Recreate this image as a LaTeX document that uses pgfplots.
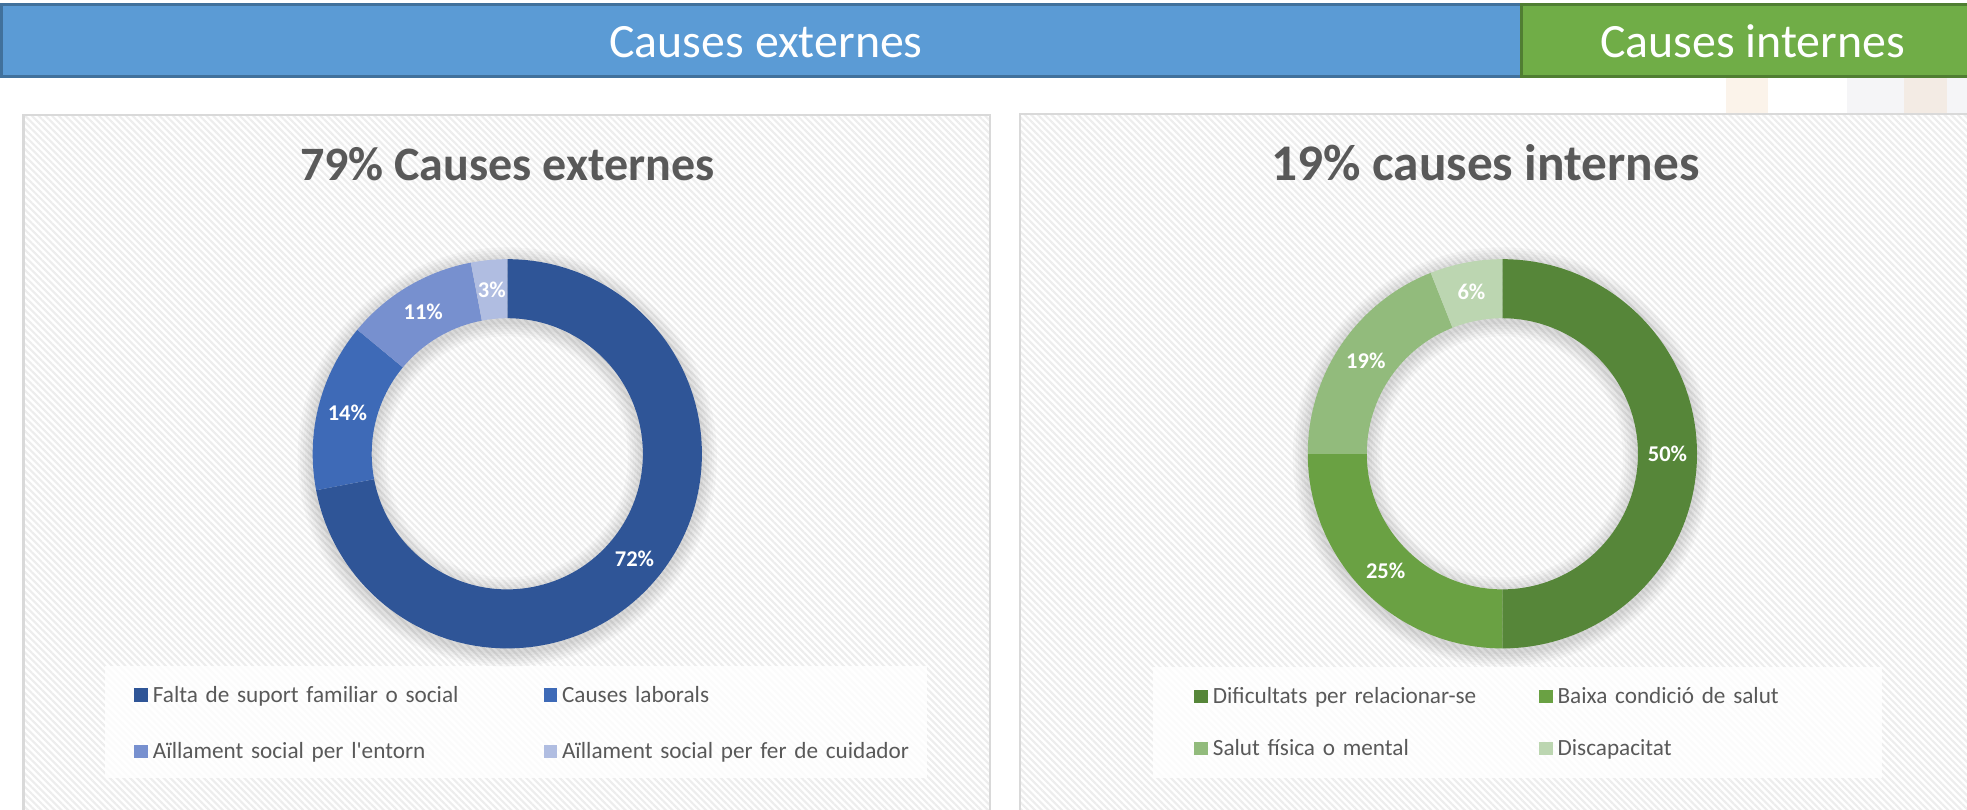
\documentclass[border=0pt]{standalone}
\usepackage{pgfplots}
\pgfplotsset{compat=1.18}
\usepackage{fontspec}
\setmainfont{Carlito}[Ligatures=TeXOff]
\usetikzlibrary{patterns.meta}

\definecolor{hdrblue}{HTML}{5B9BD5}
\definecolor{hdrblueB}{HTML}{41719C}
\definecolor{hdrgreen}{HTML}{70AD47}
\definecolor{hdrgreenB}{HTML}{507E32}
\definecolor{txtgray}{HTML}{595959}
\definecolor{panelB}{HTML}{D9D9D9}
\definecolor{stripe}{HTML}{EDEDED}
\definecolor{b1}{HTML}{2F5597}
\definecolor{b2}{HTML}{3E6AB7}
\definecolor{b3}{HTML}{7790CF}
\definecolor{b4}{HTML}{B0BDE1}
\definecolor{g1}{HTML}{568639}
\definecolor{g2}{HTML}{6AA143}
\definecolor{g3}{HTML}{92BB7C}
\definecolor{g4}{HTML}{BCD6B1}
\definecolor{beigeA}{HTML}{FBF3EA}
\definecolor{beigeB}{HTML}{F3EBE4}
\definecolor{grayA}{HTML}{F5F5F7}

% donut segment between two cumulative percentages (clockwise from top)
\newcommand{\seg}[3]{%
  \fill[#1] (axis cs:{cos(90-3.6*#2)},{sin(90-3.6*#2)})
    arc[start angle={90-3.6*#2}, end angle={90-3.6*#3}, radius=1.945cm]
    -- (axis cs:{0.6967*cos(90-3.6*#3)},{0.6967*sin(90-3.6*#3)})
    arc[start angle={90-3.6*#3}, end angle={90-3.6*#2}, radius=1.355cm] -- cycle;}
% data label at the middle of a segment
\newcommand{\lab}[3]{%
  \node[text=white, font=\bfseries\fontsize{6.4}{7.7}\selectfont]
    at (axis cs:{0.8483*cos(90-1.8*(#1+#2))},{0.8483*sin(90-1.8*(#1+#2))}) {#3};}
% soft shadow of the ring
\newcommand{\ringshadow}{%
  \fill[black, opacity=0.025, even odd rule] (axis cs:0,-0.016) circle[radius=1.97cm] (axis cs:0,-0.016) circle[radius=1.33cm];
  \fill[black, opacity=0.025, even odd rule] (axis cs:0,-0.016) circle[radius=1.995cm] (axis cs:0,-0.016) circle[radius=1.305cm];
  \fill[black, opacity=0.025, even odd rule] (axis cs:0,-0.016) circle[radius=2.02cm] (axis cs:0,-0.016) circle[radius=1.28cm];
  \fill[black, opacity=0.025, even odd rule] (axis cs:0,-0.016) circle[radius=2.045cm] (axis cs:0,-0.016) circle[radius=1.255cm];
  \fill[black, opacity=0.025, even odd rule] (axis cs:0,-0.016) circle[radius=2.07cm] (axis cs:0,-0.016) circle[radius=1.23cm];
  \fill[black, opacity=0.025, even odd rule] (axis cs:0,-0.016) circle[radius=2.095cm] (axis cs:0,-0.016) circle[radius=1.205cm];}

\pgfplotsset{
  donut/.style={
    scale only axis, width=3.89cm, height=3.89cm,
    xmin=-1, xmax=1, ymin=-1, ymax=1,
    hide axis, clip=false, anchor=south west,
    title style={anchor=base, yshift=-6pt, text=txtgray},
    legend columns=2, legend cell align=left,
    legend image code/.code={\fill[##1,draw=none] (0cm,-0.05cm) rectangle (0.135cm,0.085cm);},
    legend style={anchor=north west, draw=none, fill=none, inner sep=0pt,
      /tikz/every odd column/.append style={column sep=0.05cm}},
  },
  legnodes/.style={legend style={nodes={inner sep=0pt, text width=#1, align=left,
      text height=0.16cm, text depth=0.05cm,
      font=\fontsize{6.6}{7.9}\selectfont, text=txtgray}}},
}

\begin{document}
\begin{tikzpicture}[x=0.01cm, y=0.01cm]
\useasboundingbox (0,0) rectangle (1967,809);
\clip (0,0) rectangle (1967,809);
\fill[white] (0,0) rectangle (1967,809);

% panels
\fill[white] (23.5,-20) rectangle (990,694);
\fill[pattern={Lines[angle=-45, distance=1.35pt, line width=0.6pt]}, pattern color=stripe] (23.5,-20) rectangle (990,694);
\draw[panelB, line width=0.025cm] (23.5,-20) rectangle (990,694);
\fill[white] (1020,-20) rectangle (2000,695);
\fill[pattern={Lines[angle=-45, distance=1.35pt, line width=0.6pt]}, pattern color=stripe] (1020,-20) rectangle (2000,695);
\draw[panelB, line width=0.025cm] (1020,-20) rectangle (2000,695);

% faint blocks under header
\fill[beigeA] (1725.7,696) rectangle (1768,731);
\fill[grayA] (1846.7,696) rectangle (1904,731);
\fill[beigeB] (1904,696) rectangle (1946.7,731);
\fill[grayA] (1946.7,696) rectangle (1967,731);

% legend backgrounds
\fill[white, opacity=0.8] (105,31) rectangle (927,143);
\fill[white, opacity=0.8] (1153,31) rectangle (1882,142);

% header bars
\filldraw[fill=hdrblue, draw=hdrblueB, line width=0.03cm] (1.5,804.5) rectangle (1521,732.5);
\filldraw[fill=hdrgreen, draw=hdrgreenB, line width=0.03cm] (1521.5,804.5) rectangle (1995,732.5);
\node[anchor=base, text=white, font=\fontsize{13.6}{16}\selectfont] at (766,751) {Causes externes};
\node[anchor=base, text=white, font=\fontsize{13.6}{16}\selectfont] at (1752.5,751) {Causes internes};

% left donut: 72, 14, 11, 3
\begin{axis}[donut, at={(3.125cm,1.605cm)},
  title={79\% Causes externes},
  title style={at={(0.5,1.2018)}, font=\bfseries\fontsize{13.65}{16}\selectfont},
  legnodes=3.904cm,
  legend style={at={(-0.4599,-0.0956)}, row sep=0.356cm}]
\ringshadow
\seg{b1}{0}{72}
\seg{b2}{72}{86}
\seg{b3}{86}{97}
\seg{b4}{97}{100}
\lab{0}{72}{72\%}
\lab{72}{86}{14\%}
\lab{86}{97}{11\%}
\lab{97}{100}{3\%}
\addlegendimage{fill=b1}\addlegendentry{Falta de suport familiar o social}
\addlegendimage{fill=b2}\addlegendentry{Causes laborals}
\addlegendimage{fill=b3}\addlegendentry{Aïllament social per l'entorn}
\addlegendimage{fill=b4}\addlegendentry{Aïllament social per fer de cuidador}
\end{axis}

% right donut: 50, 25, 19, 6
\begin{axis}[donut, at={(13.07cm,1.605cm)},
  title={19\% causes internes},
  title style={at={(0.4568,1.2031)}, font=\bfseries\fontsize{14.6}{17}\selectfont},
  legnodes=3.26cm,
  legend style={at={(-0.2931,-0.0997)}, row sep=0.307cm}]
\ringshadow
\seg{g1}{0}{50}
\seg{g2}{50}{75}
\seg{g3}{75}{94}
\seg{g4}{94}{100}
\lab{0}{50}{50\%}
\lab{50}{75}{25\%}
\lab{75}{94}{19\%}
\lab{94}{100}{6\%}
\addlegendimage{fill=g1}\addlegendentry{Dificultats per relacionar-se}
\addlegendimage{fill=g2}\addlegendentry{Baixa condició de salut}
\addlegendimage{fill=g3}\addlegendentry{Salut física o mental}
\addlegendimage{fill=g4}\addlegendentry{Discapacitat}
\end{axis}
\end{tikzpicture}
\end{document}
